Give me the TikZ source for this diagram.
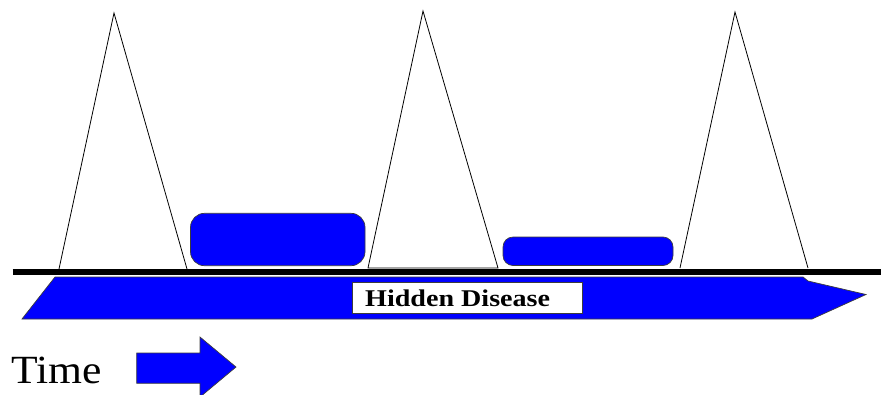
\documentclass[tikz,border=0pt]{standalone}
\usepackage{fontspec}
\setmainfont{Liberation Serif}
\usepackage{graphicx}
\definecolor{pblue}{RGB}{0,0,255}
\definecolor{edgegray}{RGB}{60,60,60}
\begin{document}
\begin{tikzpicture}[x=1pt,y=-1pt,
  tri/.style={draw=black,line width=0.8pt,line join=miter},
  bluefill/.style={fill=pblue,draw=edgegray,line width=0.7pt},
  axisline/.style={draw=black,line width=5.5pt}]
\useasboundingbox (0,0) rectangle (883,394);
% big blue arrow (hidden disease)
\filldraw[bluefill] (22,319) -- (55,277) -- (803,277) -- (808,281) -- (866,294.5) -- (812,319) -- cycle;
% thick time line
\coordinate (lineL) at (12.5,271.8);
\coordinate (lineR) at (881,271.8);
\draw[axisline] (lineL) -- (lineR);
% triangles
\draw[tri] (59,269) -- (114,13) -- (187,269);
\draw[tri] (368,268) -- (423,11) -- (498,268) -- cycle;
\draw[tri] (680,268) -- (735,12) -- (808,268);
% rounded blue blocks
\filldraw[bluefill,rounded corners=14pt] (190.5,213.3) rectangle (365,265.7);
\filldraw[bluefill,rounded corners=10pt] (503,237) rectangle (673,265.5);
% label box
\node[draw=edgegray,fill=white,line width=0.8pt,minimum width=229.5pt,minimum height=31.5pt,inner sep=0pt] (box) at (467.3,298) {};
\node[anchor=base west,inner sep=0pt,font=\fontsize{24}{24}\selectfont\bfseries] (hd) at (365,306.7) {\scalebox{1.17}[1]{Hidden Disease}};
% time label and arrow
\node[anchor=base west,inner sep=0pt,font=\fontsize{40}{40}\selectfont] (time) at (11,383) {\scalebox{1.09}[1]{Time}};
\filldraw[bluefill] (136.7,353) -- (200,353) -- (200,337) -- (236,367) -- (200,397) -- (200,383.3) -- (136.7,383.3) -- cycle;
\end{tikzpicture}
\end{document}
